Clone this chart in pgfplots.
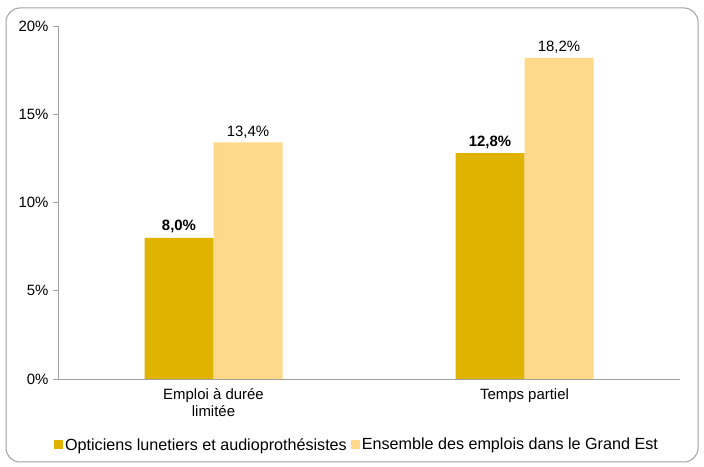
\documentclass[border=0pt]{standalone}
\usepackage{pgfplots}
\pgfplotsset{compat=1.18}
\usepackage{fontspec}
\setmainfont{Liberation Sans}
\definecolor{darkgold}{HTML}{DFB300}
\definecolor{lightgold}{HTML}{FFD98A}
\definecolor{axgray}{HTML}{A0A0A0}
\begin{document}
\begin{tikzpicture}[x=1bp,y=1bp]
\path (0,0) rectangle (704,467);
\draw[axgray, line width=1bp, rounded corners=14bp] (6,5) rectangle (698,459);
\begin{axis}[
  at={(58bp,88bp)}, anchor=south west,
  scale only axis, width=622bp, height=353bp,
  ybar=0pt, bar width=69bp,
  xmin=-0.5, xmax=1.5, ymin=0, ymax=20,
  xtick={0,1}, xticklabels={Emploi à durée\\limitée, Temps partiel},
  xticklabel style={align=center, font=\fontsize{15}{17}\selectfont, text=black, yshift=-1bp},
  major x tick style={draw=none},
  ytick={0,5,10,15,20},
  yticklabel={\pgfmathprintnumber{\tick}\%},
  /pgf/number format/assume math mode=true,
  yticklabel style={font=\fontsize{15}{17}\selectfont, xshift=-1bp},
  axis x line*=bottom, axis y line*=left,
  axis line style={axgray, line width=0.8bp},
  y axis line style={-}, x axis line style={-},
  ytick style={axgray, line width=0.8bp},
  tick align=outside, major tick length=5bp,
  legend style={at={(299bp,-55bp)}, anchor=north, draw=none, legend columns=2,
    font=\fontsize{16.2}{18}\selectfont, inner xsep=0pt, /tikz/every even column/.append style={column sep=2bp}},
  legend image code/.code={\fill[#1] (4bp,-4.5bp) rectangle (13bp,4.5bp);},
  nodes near coords,
  every node near coord/.append style={font=\fontsize{15}{17}\selectfont, text=black, yshift=1bp},
  point meta=explicit symbolic,
  clip=false,
]
\addplot[fill=darkgold, draw=none, every node near coord/.append style={font=\fontsize{15}{17}\selectfont\bfseries}] coordinates {(0,8.0) [8,0\%] (1,12.8) [12,8\%]};
\addplot[fill=lightgold, draw=none] coordinates {(0,13.4) [13,4\%] (1,18.2) [18,2\%]};
\legend{Opticiens lunetiers et audioprothésistes, Ensemble des emplois dans le Grand Est}
\end{axis}
\end{tikzpicture}
\end{document}
